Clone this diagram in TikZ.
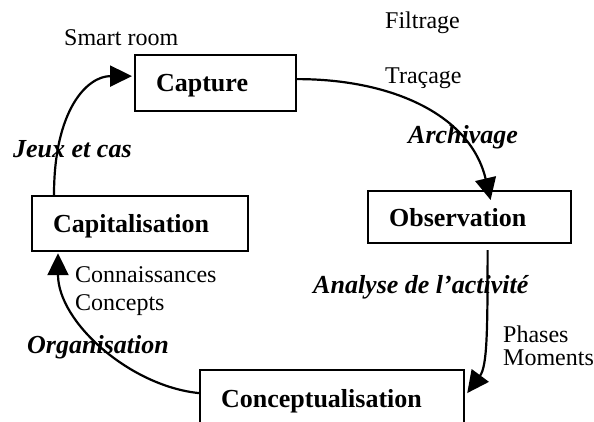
\documentclass[tikz,border=0pt]{standalone}
\usepackage{fontspec}
\setmainfont{Liberation Serif}
\usepackage{tikz}
\usetikzlibrary{calc}
\usetikzlibrary{arrows.meta}

\tikzset{
  stage/.style={draw, line width=2.2pt, anchor=north west, align=left,
    inner xsep=21pt, inner ysep=0pt, text depth=0pt,
    font=\fontsize{26}{30}\selectfont\bfseries},
  note/.style={anchor=base west, inner sep=0pt, font=\fontsize{24}{28}\selectfont},
  act/.style={anchor=base west, inner sep=0pt, font=\fontsize{26}{30}\selectfont\bfseries\itshape},
  flow/.style={line width=2.2pt, -{Triangle[length=22pt,width=21pt]}}
}

\begin{document}
\begin{tikzpicture}[x=1pt,y=-1pt]

\useasboundingbox (0,0) rectangle (594,421);

% the four stages
\node[stage, text width=119pt, minimum height=56pt] (capture) at (134,54) {Capture};
\node[stage, text width=161pt, minimum height=52pt] (observ) at (367,190) {Observation};
\node[stage, text width=222pt, minimum height=56pt] (concept) at (199,369) {Conceptualisation};
\node[stage, text width=174pt, minimum height=55pt] (capit) at (31,195) {Capitalisation};

% notes
\node[note] (smart) at (64,45) {Smart room};
\node[note] (filtr) at (385,28) {Filtrage};
\node[note] (trac) at (385,83) {Traçage};
\node[note] (conn) at (75,282) {Connaissances};
\node[note] (conc) at (75,310) {Concepts};
\node[note] (phas) at (503,342) {Phases};
\node[note] (mom) at (503,365) {Moments};

% activities
\node[act] (jeux) at (13,157) {Jeux et cas};
\node[act] (archiv) at (408,143) {Archivage};
\node[act] (analyse) at (313,293) {Analyse de l'activité};
\node[act] (organ) at (27,353) {Organisation};

% cycle
\draw[flow] ($(capit.north west)+(23,0)$) .. controls +(0,-85) and +(-45,0) .. ($(capture.west)+(-2,-7)$);
\draw[flow] ($(capture.east)+(0,-4)$) .. controls +(95,0) and +(-20,-85) .. ($(observ.north)+(21,10)$);
\draw[flow] ($(observ.south)+(18,6)$) .. controls +(0,81) and +(20,-27) .. ($(concept.east)+(2,-5)$);
\draw[flow] ($(concept.west)+(0,-5)$) .. controls +(-69,-7) and +(0,69) .. ($(capit.south west)+(27,1)$);

\end{tikzpicture}
\end{document}
